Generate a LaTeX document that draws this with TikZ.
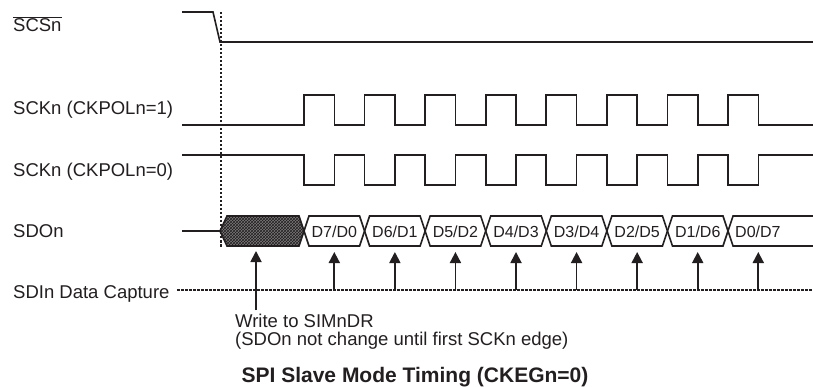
\documentclass[tikz,border=0pt]{standalone}
\usepackage{fontspec}
\setmainfont{Liberation Sans}
\usetikzlibrary{arrows.meta,patterns}
\definecolor{ink}{HTML}{231F20}
\begin{document}
\begin{tikzpicture}[x=1pt,y=-1pt,
  wave/.style={draw=ink, line width=1.6pt, line join=miter},
  lbl/.style={anchor=base west, inner sep=0pt, font=\fontsize{18.5}{20}\selectfont, text=ink},
  dat/.style={anchor=base, inner sep=0pt, font=\fontsize{16}{18}\selectfont, text=ink},
  note/.style={anchor=base west, inner sep=0pt, font=\fontsize{18.5}{20}\selectfont, text=ink},
  ttl/.style={anchor=base, inner sep=0pt, font=\fontsize{21}{23}\selectfont\bfseries, text=ink},
  capture/.style={draw=ink, line width=1.8pt, -{Triangle[width=11pt,length=11pt]}},
  guide/.style={draw=ink, line width=1.1pt, dash pattern=on 2.5pt off 1.5pt}]
\useasboundingbox (0,0) rectangle (813,387);
\fill[white] (0,0) rectangle (813,387);

% signal labels
\node[lbl] (scs)  at (13,32)  {$\overline{\mbox{SCSn}}$};
\node[lbl] (sck1) at (13,115) {SCKn (CKPOLn=1)};
\node[lbl] (sck0) at (13,177) {SCKn (CKPOLn=0)};
\node[lbl] (sdo)  at (13,237) {SDOn};
\node[lbl] (sdi)  at (13,298) {SDIn Data Capture};

% SCSn
\draw[wave] (182,12) -- (213,12) -- (220,42) -- (813,42);

% dashed vertical marker
\coordinate (vtop) at (221,12);
\coordinate (vbot) at (221,248);
\draw[guide] (vtop) -- (vbot);

% SCKn (CKPOLn=1)
\draw[wave] (182,125) foreach \k in {0,...,7} {
  -- ({304+\k*60.57},125) -- ({304+\k*60.57},95)
  -- ({334.3+\k*60.57},95) -- ({334.3+\k*60.57},125) } -- (813,125);

% SCKn (CKPOLn=0)
\draw[wave] (182,155) foreach \k in {0,...,7} {
  -- ({304+\k*60.57},155) -- ({304+\k*60.57},185)
  -- ({334.3+\k*60.57},185) -- ({334.3+\k*60.57},155) } -- (813,155);

% SDOn
\draw[wave] (182,231) -- (220,231);
\fill[ink!60] (220,231) -- (227,216) -- (299,216) -- (304,231) -- (299,246) -- (227,246) -- cycle;
\fill[pattern=crosshatch, pattern color=ink] (220,231) -- (227,216) -- (299,216) -- (304,231) -- (299,246) -- (227,246) -- cycle;
\draw[wave] (220,231) -- (227,216) -- (299,216) -- (304,231) -- (299,246) -- (227,246) -- cycle;
\foreach \k in {0,...,6} {
  \draw[wave] ({304+\k*60.57},231) -- ({309+\k*60.57},216) -- ({359.57+\k*60.57},216)
    -- ({364.57+\k*60.57},231) -- ({359.57+\k*60.57},246) -- ({309+\k*60.57},246) -- cycle;
}
\draw[wave] (813,216) -- (733,216) -- (728,231) -- (733,246) -- (813,246);
\foreach \k/\t in {0/D7\slash D0,1/D6\slash D1,2/D5\slash D2,3/D4\slash D3,4/D3\slash D4,5/D2\slash D5,6/D1\slash D6} {
  \node[dat] (d\k) at ({334.3+\k*60.57},237) {\t};
}
\node[dat, anchor=base west] (d7) at (735,237) {D0/D7};

% SDIn data capture
\coordinate (cl) at (177,290);
\coordinate (cr) at (813,290);
\draw[guide] (cl) -- (cr);
\foreach \k in {0,...,7} {
  \coordinate (cb\k) at ({334.3+\k*60.57},290);
  \coordinate (ct\k) at ({334.3+\k*60.57},252);
  \draw[capture] (cb\k) -- (ct\k);
}

% write marker
\coordinate (wb) at (256,310);
\coordinate (wt) at (256,251);
\draw[capture] (wb) -- (wt);
\node[note] (w1) at (235,327) {Write to SIMnDR};
\node[note] (w2) at (235,345) {(SDOn not change until first SCKn edge)};

% title
\node[ttl] (title) at (415,382) {SPI Slave Mode Timing (CKEGn=0)};
\end{tikzpicture}
\end{document}
